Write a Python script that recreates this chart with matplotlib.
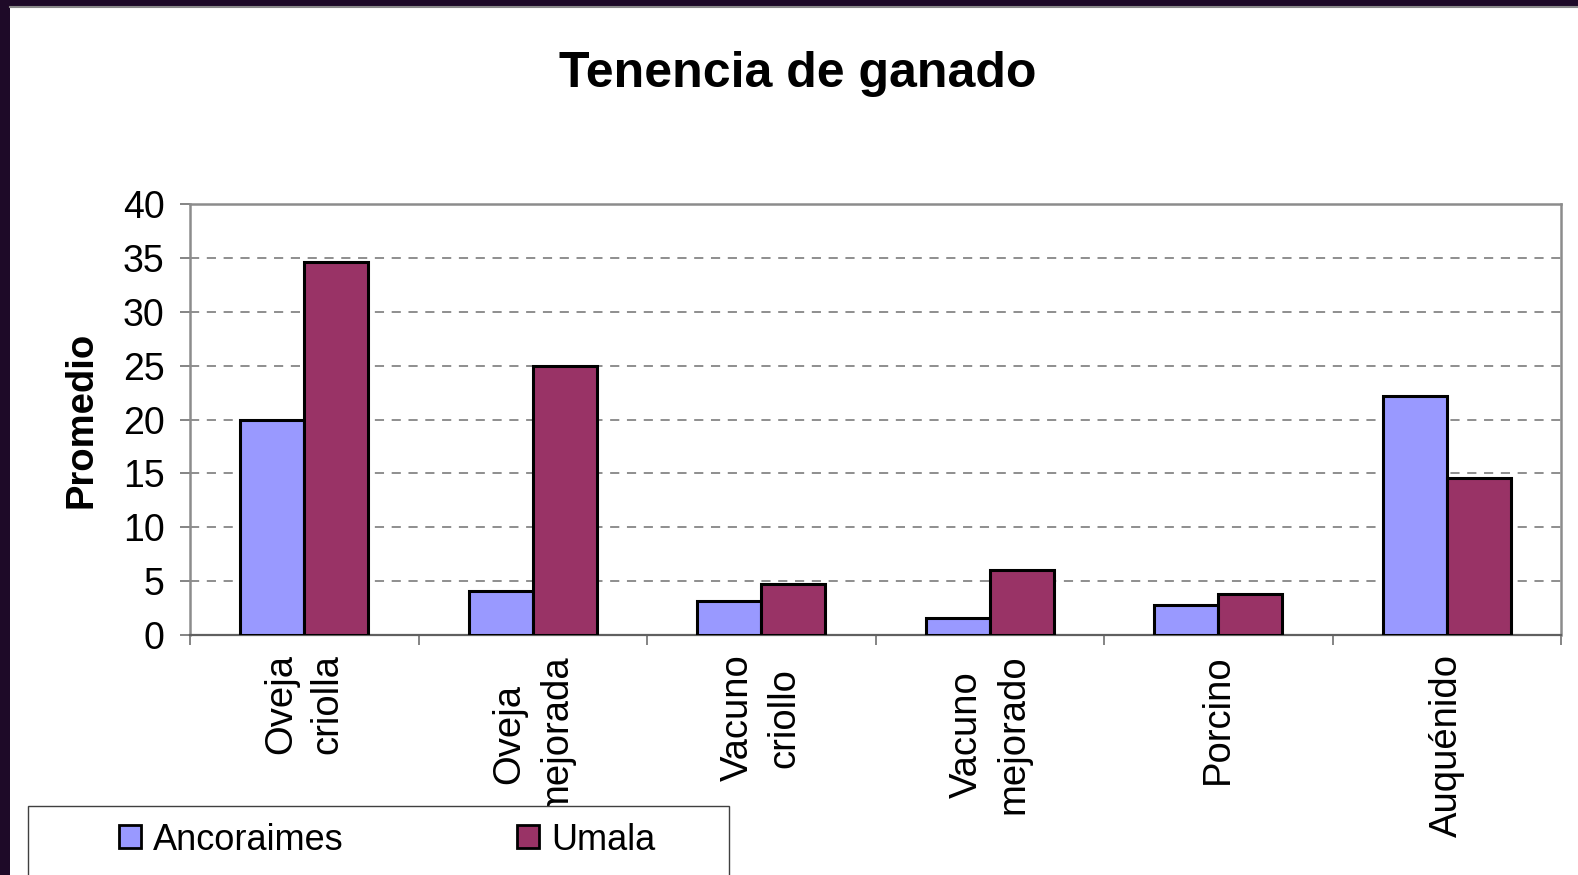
import matplotlib
matplotlib.use("Agg")
import matplotlib.pyplot as plt
import numpy as np
from matplotlib.patches import Rectangle, Patch
from matplotlib.lines import Line2D

plt.rcParams['font.family'] = ['Liberation Sans', 'DejaVu Sans']

categories = ["Oveja\ncriolla", "Oveja\nmejorada", "Vacuno\ncriollo",
              "Vacuno\nmejorado", "Porcino", "Auquénido"]
ancoraimes = [20.0, 4.1, 3.15, 1.55, 2.8, 22.2]
umala = [34.6, 25.0, 4.7, 6.0, 3.8, 14.6]
series_names = ["Ancoraimes", "Umala"]
colors = ["#9999FF", "#993366"]

W, H = 1578, 875
fig = plt.figure(figsize=(W / 100, H / 100), dpi=100, facecolor="#1e0a28")

# white page inside the dark frame
fig.add_artist(Rectangle((10 / W, 0), 1 - 10 / W, 1 - 6 / H, transform=fig.transFigure,
                         facecolor="white", edgecolor="none", zorder=-5))
fig.add_artist(Line2D([10 / W, 1], [1 - 6.5 / H, 1 - 6.5 / H], transform=fig.transFigure,
                      color="#8a8a8a", lw=1.5, zorder=-4))

ax = fig.add_axes([190 / W, 1 - 635 / H, (1561 - 190) / W, (635 - 204) / H])
ax.set_facecolor("white")

x = np.arange(len(categories))
w = 0.28
ax.bar(x - w / 2, ancoraimes, w, color=colors[0], edgecolor="black", linewidth=2.2, zorder=3)
ax.bar(x + w / 2, umala, w, color=colors[1], edgecolor="black", linewidth=2.2, zorder=3)

ax.set_xlim(-0.5, len(categories) - 0.5)
ax.set_ylim(0, 40)
ax.set_yticks(np.arange(0, 41, 5))
ax.yaxis.grid(True, linestyle=(0, (6, 5)), color="#707070", linewidth=1.1, zorder=0)
ax.tick_params(axis="y", labelsize=27, length=7.2, width=1.2, color="#707070", pad=11)

ax.set_xticks(x)
ax.set_xticklabels(categories, rotation=90, fontsize=27.5, va="top", ha="center",
                   multialignment="center", linespacing=1.38)
ax.tick_params(axis="x", which="major", length=0, pad=14)
ax.set_xticks(np.arange(-0.5, len(categories), 1), minor=True)
ax.tick_params(axis="x", which="minor", length=7.5, width=1.2, color="#707070")

for side in ["top", "right", "left"]:
    ax.spines[side].set_color("#8c8c8c")
    ax.spines[side].set_linewidth(1.8)
ax.spines["bottom"].set_color("#606060")
ax.spines["bottom"].set_linewidth(1.6)

ax.set_ylabel("Promedio", fontsize=27.5, fontweight="bold")
ax.yaxis.set_label_coords(-0.066, 0.5)

fig.text(798 / W, 1 - 87 / H, "Tenencia de ganado", fontsize=36, fontweight="bold",
         ha="center", va="baseline")

# legend box
fig.add_artist(Rectangle((28 / W, -0.05), (729 - 28) / W, (1 - 806 / H) + 0.05,
                         transform=fig.transFigure, facecolor="white",
                         edgecolor="#404040", linewidth=1.0, zorder=1))
handles = [Patch(facecolor=c, edgecolor="black", linewidth=2.0) for c in colors]
fig.legend(handles, series_names, loc="center left", ncol=2,
           bbox_to_anchor=(119 / W, 1 - 840 / H), frameon=False, fontsize=26,
           borderpad=0, borderaxespad=0, handlelength=0.6, handleheight=0.6,
           handletextpad=0.35, columnspacing=4.8)

fig.savefig("out.png", dpi=100, facecolor=fig.get_facecolor())
